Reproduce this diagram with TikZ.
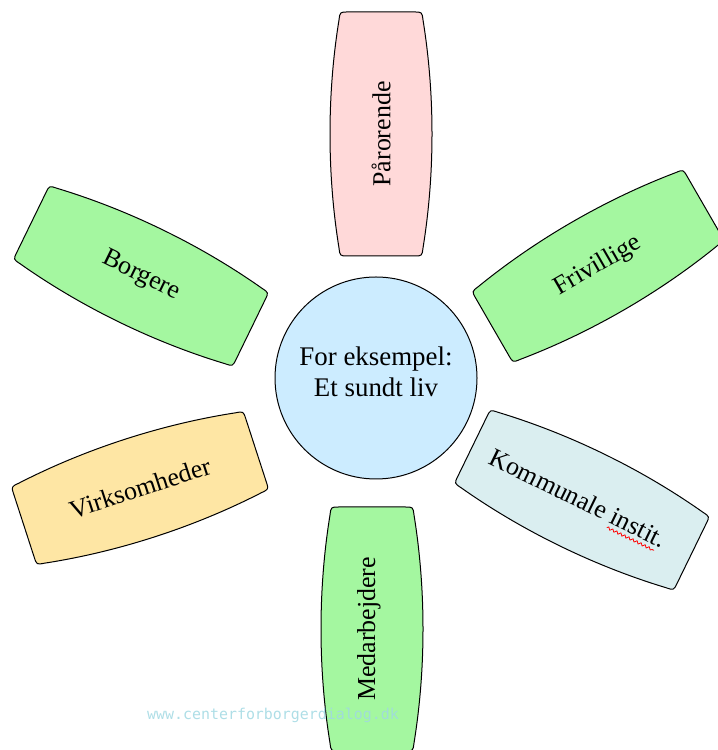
\documentclass[tikz,border=0pt]{standalone}
\usepackage{fontspec}
\setmainfont{Liberation Serif}
\newfontfamily\wwwfont{DejaVu Sans Mono}
\usepackage{xcolor}
\usetikzlibrary{decorations.pathmorphing}
\definecolor{pinkfill}{RGB}{255,217,217}
\definecolor{greenfill}{RGB}{164,247,160}
\definecolor{bluefill}{RGB}{204,236,255}
\definecolor{greyfill}{RGB}{218,238,240}
\definecolor{yellowfill}{RGB}{254,230,164}
\definecolor{wwwcolor}{RGB}{160,216,226}

\begin{document}
\begin{tikzpicture}[line cap=round,line join=round,x=1bp,y=1bp,line width=1bp,
  petal/.pic={\path[pic actions] (-122,-33) -- (-122,33) .. controls (-122,41) .. (-114,42)
    .. controls (-40,54) and (40,54) .. (114,42) .. controls (122,41) .. (122,33)
    -- (122,-33) .. controls (122,-41) .. (114,-42)
    .. controls (40,-54) and (-40,-54) .. (-114,-42) .. controls (-122,-41) .. cycle;},
  petaltext/.style={font=\fontsize{26}{30}\selectfont,inner sep=0pt}]
\useasboundingbox (0,0) rectangle (718,750);
\pic[draw,fill=pinkfill,rotate=90] at (381,616) {petal};
\pic[draw,fill=greenfill,rotate=-26] at (141,474) {petal};
\pic[draw,fill=greenfill,rotate=30] at (598,484) {petal};
\pic[draw,fill=greyfill,rotate=-26] at (582,250) {petal};
\pic[draw,fill=yellowfill,rotate=18] at (140,262) {petal};
\pic[draw,fill=greenfill,rotate=90] at (372,121) {petal};
\node[petaltext,rotate=90] (paarorende) at (381,616) {Pårorende};
\node[petaltext,rotate=-26] (borgere) at (141,474) {Borgere};
\node[petaltext,rotate=30] (frivillige) at (598,484) {Frivillige};
\node[petaltext,rotate=-26] (kommunale) at (578,252) {Kommunale instit.};
\begin{scope}[shift={(kommunale.base)},rotate=-26]
\draw[red,line width=0.8bp,decorate,decoration={snake,amplitude=1.3bp,segment length=4.5bp}] (39,-5) -- (91,-5);
\end{scope}
\node[petaltext,rotate=18] (virksomheder) at (140,262) {Virksomheder};
\node[petaltext,rotate=90] (medarbejdere) at (369,121) {Medarbejdere};
\node[circle,draw,fill=bluefill,minimum size=202bp] (centre) at (376,372) {};
\node[align=center,inner sep=0pt,font=\fontsize{27}{31}\selectfont] (centretext) at (376,378) {For eksempel:\\Et sundt liv};
\node[text=wwwcolor,opacity=0.85,font=\wwwfont\fontsize{15}{18}\selectfont] (www) at (273,35) {www.centerforborgerdialog.dk};
\end{tikzpicture}
\end{document}
